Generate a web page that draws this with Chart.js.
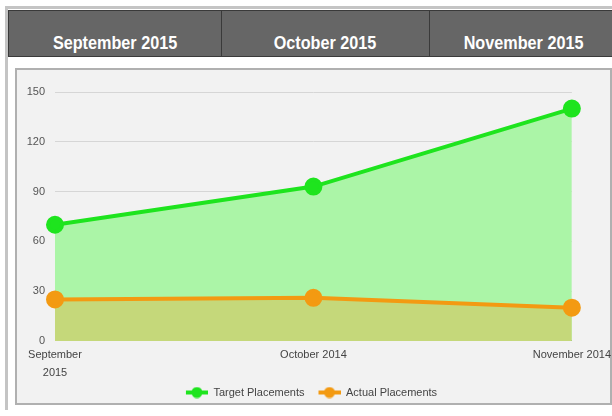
<!DOCTYPE html>
<html>
<head>
<meta charset="utf-8">
<script src="https://cdn.jsdelivr.net/npm/chart.js@4/dist/chart.umd.min.js"></script>
<style>
  html, body { margin: 0; padding: 0; background: #fff; }
  body { width: 612px; height: 416px; position: relative; overflow: hidden; font-family: "Liberation Sans", Arial, sans-serif; }
  .frame { position: absolute; left: 5px; top: 6px; width: 620px; height: 404px; border-left: 3px solid #c4c4c4; border-top: 3px solid #c4c4c4; box-sizing: border-box; }
  .months { position: absolute; left: 8px; top: 10px; width: 612px; height: 47px; background: #666; border: 1px solid #3a3a3a; box-sizing: border-box; display: flex; }
  .months div { color: #fff; font-weight: bold; font-size: 18px; text-align: center; padding-top: 22px; box-sizing: border-box; border-right: 1px solid #3a3a3a; height: 100%; }
  .months span { display: inline-block; transform: scaleX(0.9); }
  .panel { position: absolute; left: 15px; top: 68px; width: 597px; height: 337px; background: #f2f2f2; border: 2px solid #b0b0b0; box-sizing: border-box; }
  #wrap { position: absolute; left: 2px; top: 2px; width: 597px; height: 336px; }
</style>
</head>
<body>
<div class="frame"></div>
<div class="months" id="months"></div>
<div class="panel"><div id="wrap"><canvas id="chart"></canvas></div></div>
<script>
var headerMonths = ["September 2015", "October 2015", "November 2015"];
var headerWidths = [214, 208, 190];

var categories = [["September", "2015"], "October 2014", "November 2014"];
var targetPlacements = [70, 93, 140];
var actualPlacements = [25, 26, 20];
var yTicks = [0, 30, 60, 90, 120, 150];

(function () {
  var bar = document.getElementById("months");
  headerMonths.forEach(function (m, i) {
    var d = document.createElement("div");
    d.style.width = headerWidths[i] + "px";
    var s = document.createElement("span");
    s.textContent = m;
    d.appendChild(s);
    bar.appendChild(d);
  });
})();

// legend icon: short line with a dot, plus empty room on the left as item spacing
function legendIcon(color) {
  var c = document.createElement("canvas");
  c.width = 36; c.height = 12;
  var ctx = c.getContext("2d");
  ctx.strokeStyle = color;
  ctx.lineWidth = 4;
  ctx.beginPath(); ctx.moveTo(14, 6); ctx.lineTo(36, 6); ctx.stroke();
  ctx.fillStyle = color;
  ctx.beginPath(); ctx.arc(25, 6, 5.5, 0, Math.PI * 2); ctx.fill();
  return c;
}

var green = "#1ee41e";
var orange = "#f39a12";
var lineColors = [green, orange];

new Chart(document.getElementById("chart"), {
  type: "line",
  data: {
    labels: categories,
    datasets: [
      {
        label: "Target Placements",
        data: targetPlacements,
        borderColor: green,
        backgroundColor: "#abf5a7",
        pointBackgroundColor: green,
        pointBorderColor: green,
        fill: "origin",
        borderWidth: 4,
        pointRadius: 7,
        tension: 0,
        order: 2
      },
      {
        label: "Actual Placements",
        data: actualPlacements,
        borderColor: orange,
        backgroundColor: "#c5d87a",
        pointBackgroundColor: orange,
        pointBorderColor: orange,
        fill: "origin",
        borderWidth: 4,
        pointRadius: 7,
        tension: 0,
        order: 1
      }
    ]
  },
  options: {
    responsive: true,
    maintainAspectRatio: false,
    animation: false,
    // negative left padding moves the centred legend left; the y axis is widened to compensate
    layout: { padding: { top: 20, left: -26, right: 0, bottom: 0 } },
    scales: {
      x: {
        grid: { display: false, drawTicks: false },
        border: { color: "#555", width: 1 },
        ticks: {
          color: "#444",
          font: { family: "Liberation Sans", size: 11, lineHeight: 1.64 },
          maxRotation: 0,
          autoSkip: false,
          padding: 5
        }
      },
      y: {
        min: 0,
        max: 150,
        afterBuildTicks: function (axis) {
          axis.ticks = yTicks.map(function (v) { return { value: v }; });
        },
        afterFit: function (axis) { axis.width = 62; },
        grid: { color: "#d6d6d6", drawTicks: false },
        border: { display: false },
        ticks: {
          color: "#555",
          font: { family: "Liberation Sans", size: 11 },
          padding: 10
        }
      }
    },
    plugins: {
      legend: {
        position: "bottom",
        labels: {
          usePointStyle: true,
          pointStyleWidth: 36,
          color: "#444",
          font: { family: "Liberation Sans", size: 11 },
          padding: 0,
          generateLabels: function (chart) {
            var items = Chart.defaults.plugins.legend.labels.generateLabels(chart);
            items.forEach(function (it) {
              it.pointStyle = legendIcon(lineColors[it.datasetIndex]);
            });
            return items;
          },
          sort: function (a, b) { return a.datasetIndex - b.datasetIndex; }
        }
      },
      tooltip: { enabled: false }
    }
  }
});
</script>
</body>
</html>
